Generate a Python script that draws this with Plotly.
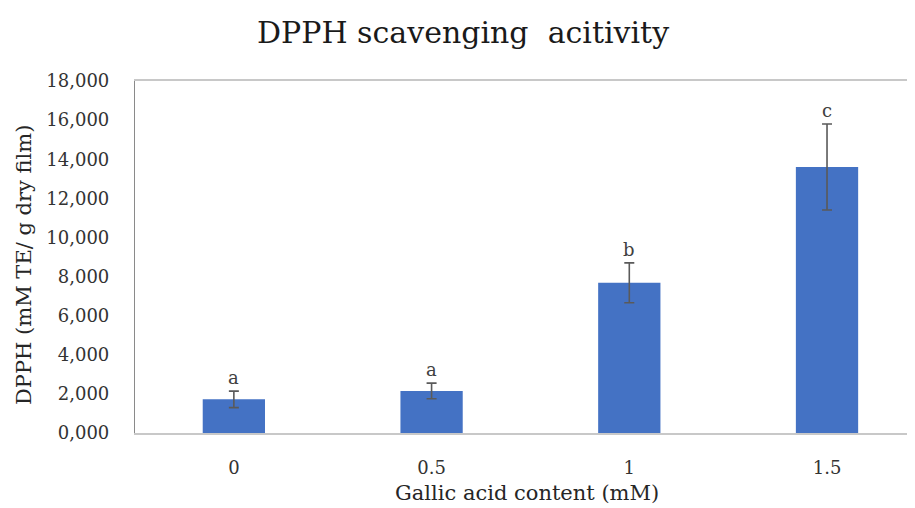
import plotly.graph_objects as go

categories = ["0", "0.5", "1", "1.5"]
values = [1.72, 2.15, 7.68, 13.6]
errors = [0.42, 0.40, 1.02, 2.2]
letters = ["a", "a", "b", "c"]
y_tickvals = [0, 2, 4, 6, 8, 10, 12, 14, 16, 18]
y_ticktext = ["0,000", "2,000", "4,000", "6,000", "8,000", "10,000", "12,000", "14,000", "16,000", "18,000"]

FONT = "DejaVu Serif, Liberation Serif, serif"

# plot area in window pixels: x 135..915, y 81..433 (page body has an 8px margin)
def px(x):
    return (x - 135) / 780

def py(y):
    return (433 - y) / 352

fig = go.Figure()
fig.add_trace(go.Bar(
    x=categories, y=values,
    marker=dict(color="#4472C4", line=dict(width=0)),
    width=0.315,
    error_y=dict(type="data", array=errors, visible=True, color="#5a5a5a", thickness=1.6, width=5),
))

for i, (v, e, l) in enumerate(zip(values, errors, letters)):
    fig.add_annotation(x=i, y=v + e, text=l, showarrow=False, yanchor="bottom", yshift=1,
                       font=dict(family=FONT, size=18, color="#404040"))

fig.add_annotation(xref="paper", yref="paper", x=px(463), y=py(33),
                   text="DPPH scavenging  acitivity", showarrow=False, xanchor="center", yanchor="middle",
                   font=dict(family=FONT, size=30, color="#1a1a1a"))
fig.add_annotation(xref="paper", yref="paper", x=px(527), y=py(493),
                   text="Gallic acid content (mM)", showarrow=False, xanchor="center", yanchor="middle",
                   font=dict(family=FONT, size=21, color="#262626"))
fig.add_annotation(xref="paper", yref="paper", x=px(24), y=py(265),
                   text="DPPH (mM TE/ g dry film)", showarrow=False, xanchor="center", yanchor="middle",
                   textangle=-90, font=dict(family=FONT, size=21, color="#262626"))

fig.update_layout(
    width=907, height=500,
    margin=dict(l=127, r=0, t=73, b=75),
    paper_bgcolor="white", plot_bgcolor="white",
    showlegend=False,
    font=dict(family=FONT, color="#333333"),
)
fig.update_xaxes(
    type="category", range=[-0.5, 3.445], showgrid=False, showline=True, mirror=True,
    linecolor="#c8c8c8", linewidth=1.5, automargin=False,
    ticks="", ticklabelstandoff=18, tickfont=dict(family=FONT, size=18, color="#333333"),
)
fig.update_yaxes(
    range=[0, 18], tickvals=y_tickvals, ticktext=y_ticktext, showgrid=False, automargin=False,
    showline=True, mirror=False, linecolor="#8a8a8a", linewidth=1.2, ticks="", zeroline=False,
    ticklabelstandoff=21, tickfont=dict(family=FONT, size=18, color="#333333"),
)

fig.write_html("out.html")
